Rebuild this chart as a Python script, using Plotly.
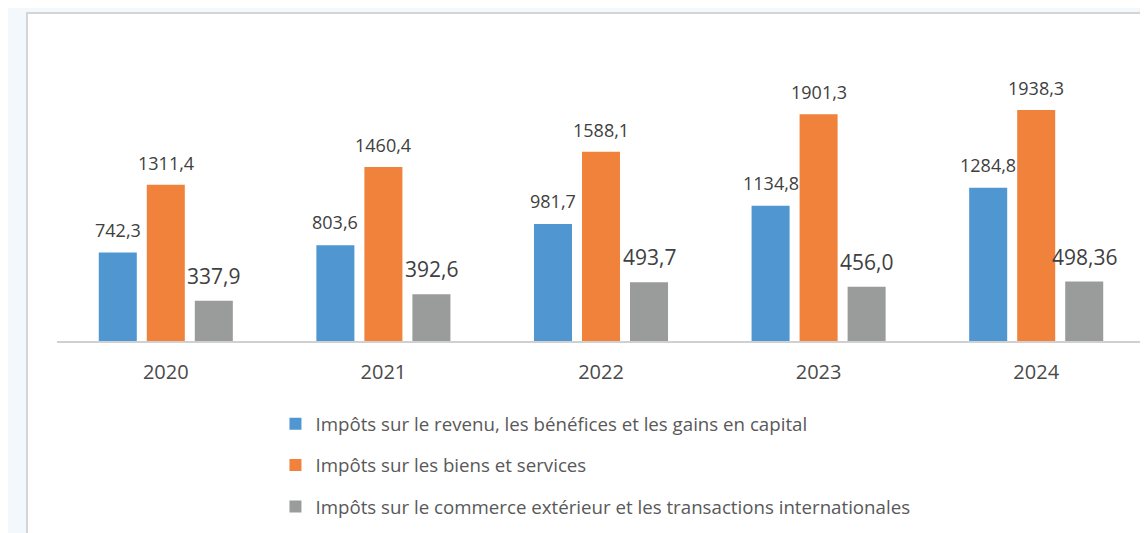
import plotly.graph_objects as go

years = ["2020", "2021", "2022", "2023", "2024"]
revenu = [742.3, 803.6, 981.7, 1134.8, 1284.8]
biens = [1311.4, 1460.4, 1588.1, 1901.3, 1938.3]
commerce = [337.9, 392.6, 493.7, 456.0, 498.36]
revenu_lbl = ["742,3", "803,6", "981,7", "1134,8", "1284,8"]
biens_lbl = ["1311,4", "1460,4", "1588,1", "1901,3", "1938,3"]
commerce_lbl = ["337,9", "392,6", "493,7", "456,0", "498,36"]
names = [
    "Impôts sur le revenu, les bénéfices et les gains en capital",
    "Impôts sur les biens et services",
    "Impôts sur le commerce extérieur et les transactions internationales",
]
colors = ["#5097d2", "#f0823c", "#9a9c9c"]

FONT = "Open Sans, sans-serif"

fig = go.Figure()
series = [revenu, biens, commerce]
labels = [revenu_lbl, biens_lbl, commerce_lbl]
for i, (vals, nm, col) in enumerate(zip(series, names, colors)):
    fig.add_trace(go.Bar(
        x=years, y=vals, name=nm, marker_color=col, marker_line_width=0,
        legendgroup=str(i), hoverinfo="skip",
    ))

annotations = []
shifts = [-48, 0, 48]
sizes = [18, 18, 21]
yshifts = [23, 22, 25]
for i, (vals, lbls) in enumerate(zip(series, labels)):
    for k, (v, t) in enumerate(zip(vals, lbls)):
        annotations.append(dict(
            x=k, y=v, text=t, showarrow=False, xref="x", yref="y",
            xshift=shifts[i], yshift=yshifts[i], yanchor="middle",
            font=dict(family=FONT, size=sizes[i], color="#404040"),
        ))

fig.update_layout(
    width=1140, height=525,
    margin=dict(l=49, r=3, t=32, b=192, autoexpand=False),
    paper_bgcolor="#f2f8fc",
    plot_bgcolor="white",
    barmode="group", bargap=0.338, bargroupgap=0.208,
    showlegend=True,
    legend=dict(
        x=0.2008, y=-0.213, xanchor="left", yanchor="top",
        orientation="v", traceorder="grouped", tracegroupgap=14,
        font=dict(family=FONT, size=18.7, color="#595959"),
        bgcolor="rgba(0,0,0,0)",
    ),
    annotations=annotations,
    shapes=[dict(
        type="rect", xref="paper", yref="paper",
        x0=-0.0276, x1=1.02, y0=-0.7, y1=1.0897,
        fillcolor="white", line=dict(color="#d4d4d4", width=2), layer="below",
    )],
)
fig.update_xaxes(
    type="category", automargin=False, range=[-0.5, len(years) - 0.5],
    showline=True, linecolor="#d0d0d0", linewidth=1.5,
    ticks="", ticklabelstandoff=12,
    tickfont=dict(family=FONT, size=20, color="#4a4a4a"),
)
fig.update_yaxes(
    range=[0, 2525], visible=False, showgrid=False, zeroline=False,
)
fig.write_html("out.html")
